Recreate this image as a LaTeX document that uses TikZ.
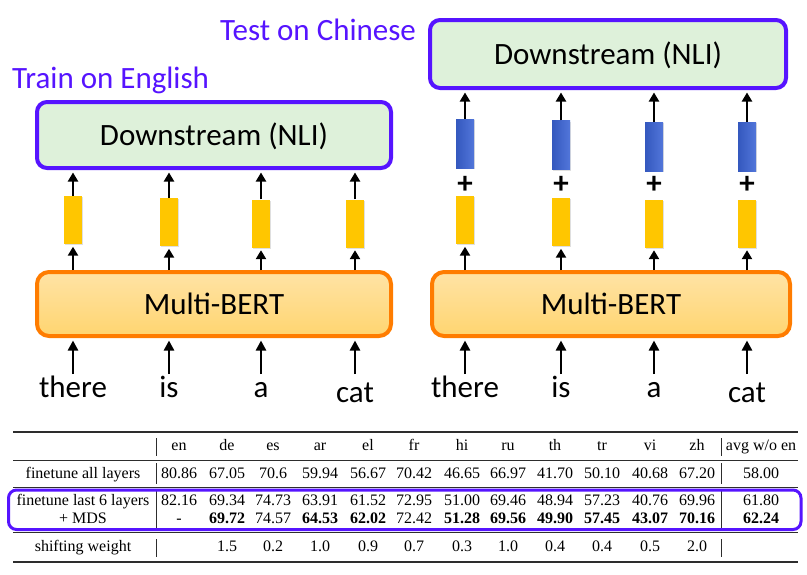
\documentclass[tikz,border=0pt]{standalone}
\usepackage{fontspec}
\setmainfont{Liberation Serif}
\newfontfamily\cali{Carlito}
\usetikzlibrary{arrows.meta,shadows}
\definecolor{purp}{RGB}{86,20,255}
\definecolor{dsgreen}{RGB}{222,241,218}
\definecolor{borange}{RGB}{255,124,0}
\definecolor{ltop}{RGB}{255,227,165}
\definecolor{lbot}{RGB}{255,213,112}
\definecolor{gold}{RGB}{255,198,0}
\definecolor{bleft}{RGB}{52,88,190}
\definecolor{bright}{RGB}{82,118,218}
\definecolor{rulegray}{RGB}{45,45,45}
\begin{document}
\begin{tikzpicture}[x=1pt,y=-1pt,
  every node/.style={inner sep=0pt},
  cal/.style={font=\cali\fontsize{31}{37}\selectfont},
  title/.style={cal, text=purp, anchor=base west},
  dsbox/.style={cal, draw=purp, line width=4pt, fill=dsgreen, rounded corners=10pt, text height=20pt, text depth=0pt},
  mbbox/.style={cal, draw=borange, line width=4pt, top color=ltop, bottom color=lbot, rounded corners=12pt, text height=20pt, text depth=0pt},
  ybar/.style={fill=gold, minimum width=18pt, minimum height=48pt, drop shadow={shadow xshift=1pt, shadow yshift=-1pt, opacity=0.25}},
  bbar/.style={left color=bleft, right color=bright, minimum width=18pt, minimum height=49pt, drop shadow={shadow xshift=1pt, shadow yshift=-1pt, opacity=0.25}},
  word/.style={cal, anchor=north, text height=23pt, text depth=7pt},
  plussign/.style={font=\cali\bfseries\fontsize{31}{31}\selectfont, text height=14pt, text depth=0pt},
  arr/.style={line width=2.7pt, -{Triangle[length=9pt,width=10pt]}, shorten >=2.5pt},
  inarr/.style={line width=2.3pt, -{Triangle[length=10pt,width=10pt]}, shorten >=2.5pt},
  cell/.style={anchor=base, font=\fontsize{16}{19}\selectfont},
  hrule/.style={draw=rulegray, line width=1pt},
  thickrule/.style={draw=rulegray, line width=1.5pt},
  vrule/.style={draw=rulegray, line width=0.9pt},
]
\useasboundingbox (0,0) rectangle (807,574);

% titles
\node[title] (train) at (12,88) {Train on English};
\node[title] (test) at (220,40) {Test on Chinese};

% left diagram
\node[dsbox, minimum width=354pt, minimum height=66pt] (dsL) at (214,135) {Downstream (NLI)};
\node[mbbox, minimum width=354pt, minimum height=64pt] (mbL) at (214,304) {Multi-BERT};
\foreach \x/\y/\w [count=\i] in {73/220/there, 169/222/is, 261/223.5/a, 355/223.5/\raisebox{-5pt}{cat}} {
  \node[ybar] (ybL\i) at (\x,\y) {};
  \node[word] (wL\i) at (\x,374) {\w};
  \draw[arr] (ybL\i.north) -- (ybL\i.north |- dsL.south);
  \draw[arr] (ybL\i.south |- mbL.north) -- (ybL\i.south);
  \draw[inarr] (wL\i.north) -- (wL\i.north |- mbL.south);
}

% right diagram
\node[dsbox, minimum width=356pt, minimum height=68pt] (dsR) at (608,54) {Downstream (NLI)};
\node[mbbox, minimum width=358pt, minimum height=64pt] (mbR) at (611,304) {Multi-BERT};
\foreach \x/\y/\by/\w [count=\i] in {465/220/143.5/there, 561/222/145/is, 654/223.5/146.5/a, 747/223.5/146.5/\raisebox{-5pt}{cat}} {
  \node[ybar] (ybR\i) at (\x,\y) {};
  \node[bbar] (bbR\i) at (\x,\by) {};
  \node[plussign] (pR\i) at (\x,186) {+};
  \node[word] (wR\i) at (\x,374) {\w};
  \draw[arr] (bbR\i.north) -- (bbR\i.north |- dsR.south);
  \draw[arr] (ybR\i.south |- mbR.north) -- (ybR\i.south);
  \draw[inarr] (wR\i.north) -- (wR\i.north |- mbR.south);
}

% table
\def\colx{{179,227,273,320,368,414,462,508,555,602,650,697,761}}
\draw[thickrule] (13,432) -- (798,432);
\draw[hrule] (13,460) -- (798,460);
\draw[hrule] (13,487.5) -- (798,487.5);
\draw[hrule] (13,532.5) -- (798,532.5);
\draw[thickrule] (13,562) -- (798,562);
\foreach \ya/\yb in {438/456, 463/484, 491/529, 539/557} {
  \draw[vrule] (156,\ya) -- (156,\yb);
  \draw[vrule] (721,\ya) -- (721,\yb);
}
\draw[purp, line width=3pt, rounded corners=8pt] (8.5,490) rectangle (801,529.5);

\node[cell] (lab1) at (83,478) {finetune all layers};
\node[cell] (lab2) at (83,505.5) {finetune last 6 layers};
\node[cell] (lab3) at (83,523.3) {+ MDS};
\node[cell] (lab4) at (83,551) {shifting weight};

\foreach \v [count=\i] in {en,de,es,ar,el,fr,hi,ru,th,tr,vi,zh,avg w/o en} {
  \pgfmathsetmacro\cx{\colx[\i-1]}
  \node[cell] (h\i) at (\cx,450.5) {\v};
}
\foreach \v [count=\i] in {80.86,67.05,70.6,59.94,56.67,70.42,46.65,66.97,41.70,50.10,40.68,67.20,58.00} {
  \pgfmathsetmacro\cx{\colx[\i-1]}
  \node[cell] (ra\i) at (\cx,478) {\v};
}
\foreach \v [count=\i] in {82.16,69.34,74.73,63.91,61.52,72.95,51.00,69.46,48.94,57.23,40.76,69.96,61.80} {
  \pgfmathsetmacro\cx{\colx[\i-1]}
  \node[cell] (rb\i) at (\cx,505.5) {\v};
}
\foreach \v [count=\i] in {-,\textbf{69.72},74.57,\textbf{64.53},\textbf{62.02},72.42,\textbf{51.28},\textbf{69.56},\textbf{49.90},\textbf{57.45},\textbf{43.07},\textbf{70.16},\textbf{62.24}} {
  \pgfmathsetmacro\cx{\colx[\i-1]}
  \node[cell] (rc\i) at (\cx,523.3) {\v};
}
\foreach \v [count=\i from 2] in {1.5,0.2,1.0,0.9,0.7,0.3,1.0,0.4,0.4,0.5,2.0} {
  \pgfmathsetmacro\cx{\colx[\i-1]}
  \node[cell] (rd\i) at (\cx,551) {\v};
}
\end{tikzpicture}
\end{document}
